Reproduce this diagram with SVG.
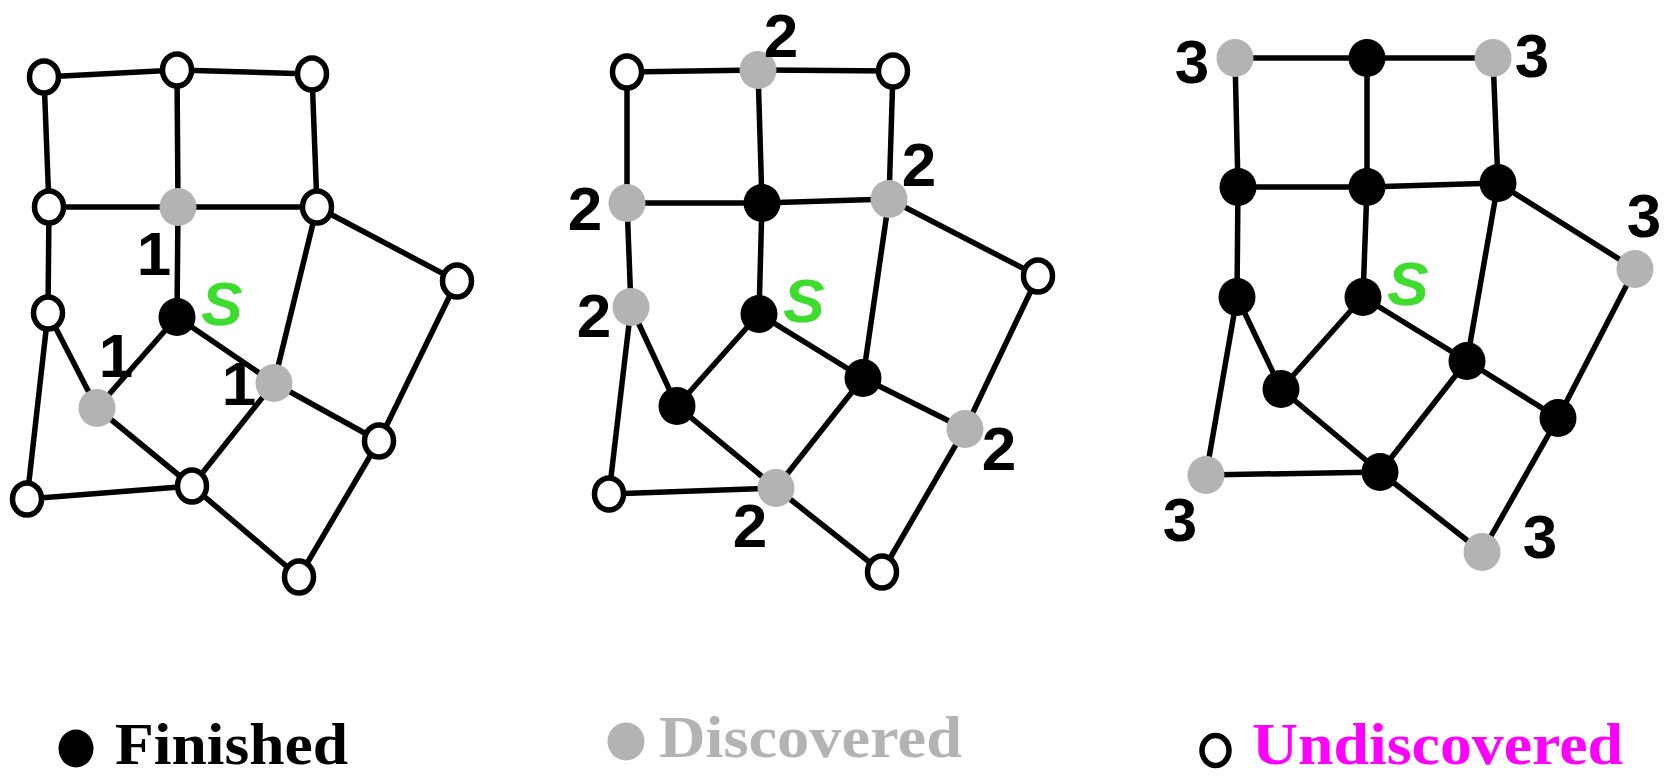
<svg xmlns="http://www.w3.org/2000/svg" width="1666" height="776" viewBox="0 0 1666 776">
<style>
.e{stroke:#000;stroke-width:5.5;fill:none}
.f{fill:#000}
.d{fill:#b3b3b3}
.u{fill:#fff;stroke:#000;stroke-width:5.5}
.n{font-family:"Liberation Sans",Arial,sans-serif;font-weight:bold;font-size:62px;fill:#000;text-anchor:middle}
.s{font-family:"Liberation Sans",Arial,sans-serif;font-weight:bold;font-style:italic;font-size:62px;fill:#3ddc2f;text-anchor:middle}
.lg{font-family:"Liberation Serif","Times New Roman",serif;font-weight:bold;font-size:60px}
</style>
<rect width="1666" height="776" fill="#fff"/>
<defs>
<ellipse id="fn" rx="18.5" ry="19"/>
<ellipse id="un" rx="14.5" ry="16"/>
</defs>

<!-- Graph 1 connectors -->
<g id="connectors1" class="e">
<line x1="44" y1="77" x2="177" y2="70"/>
<line x1="177" y1="70" x2="312" y2="74"/>
<line x1="44" y1="77" x2="49" y2="207"/>
<line x1="177" y1="70" x2="178" y2="207"/>
<line x1="312" y1="74" x2="317" y2="207"/>
<line x1="49" y1="207" x2="178" y2="207"/>
<line x1="178" y1="207" x2="317" y2="207"/>
<line x1="49" y1="207" x2="48" y2="313"/>
<line x1="178" y1="207" x2="177" y2="317"/>
<line x1="317" y1="207" x2="457" y2="281"/>
<line x1="317" y1="207" x2="274" y2="383"/>
<line x1="48" y1="313" x2="97" y2="408"/>
<line x1="48" y1="313" x2="27" y2="499"/>
<line x1="177" y1="317" x2="97" y2="408"/>
<line x1="177" y1="317" x2="274" y2="383"/>
<line x1="97" y1="408" x2="192" y2="486"/>
<line x1="274" y1="383" x2="192" y2="486"/>
<line x1="274" y1="383" x2="379" y2="441"/>
<line x1="457" y1="281" x2="379" y2="441"/>
<line x1="27" y1="499" x2="192" y2="486"/>
<line x1="192" y1="486" x2="299" y2="577"/>
<line x1="379" y1="441" x2="299" y2="577"/>
</g>
<g id="g1A"><use href="#un" class="u" x="44" y="77"/></g>
<g id="g1B"><use href="#un" class="u" x="177" y="70"/></g>
<g id="g1C"><use href="#un" class="u" x="312" y="74"/></g>
<g id="g1D"><use href="#un" class="u" x="49" y="207"/></g>
<g id="g1E"><use href="#fn" class="d" x="178" y="207"/><text class="n" x="154" y="275">1</text></g>
<g id="g1F"><use href="#un" class="u" x="317" y="207"/></g>
<g id="g1G"><use href="#un" class="u" x="48" y="313"/></g>
<g id="g1S"><use href="#fn" class="f" x="177" y="317"/><text class="s" x="222" y="325">S</text></g>
<g id="g1H"><use href="#un" class="u" x="457" y="281"/></g>
<g id="g1I"><use href="#fn" class="d" x="97" y="408"/><text class="n" x="116" y="377">1</text></g>
<g id="g1J"><use href="#fn" class="d" x="274" y="383"/><text class="n" x="239" y="405">1</text></g>
<g id="g1K"><use href="#un" class="u" x="379" y="441"/></g>
<g id="g1L"><use href="#un" class="u" x="27" y="499"/></g>
<g id="g1M"><use href="#un" class="u" x="192" y="486"/></g>
<g id="g1N"><use href="#un" class="u" x="299" y="577"/></g>

<!-- Graph 2 connectors -->
<g id="connectors2" class="e">
<line x1="627" y1="72" x2="758" y2="70"/>
<line x1="758" y1="70" x2="893" y2="71"/>
<line x1="627" y1="72" x2="627" y2="203"/>
<line x1="758" y1="70" x2="762" y2="203"/>
<line x1="893" y1="71" x2="889" y2="199"/>
<line x1="627" y1="203" x2="762" y2="203"/>
<line x1="762" y1="203" x2="889" y2="199"/>
<line x1="627" y1="203" x2="631" y2="307"/>
<line x1="762" y1="203" x2="759" y2="314"/>
<line x1="889" y1="199" x2="1038" y2="276"/>
<line x1="889" y1="199" x2="863" y2="378"/>
<line x1="631" y1="307" x2="677" y2="406"/>
<line x1="631" y1="307" x2="609" y2="494"/>
<line x1="759" y1="314" x2="677" y2="406"/>
<line x1="759" y1="314" x2="863" y2="378"/>
<line x1="677" y1="406" x2="776" y2="488"/>
<line x1="863" y1="378" x2="776" y2="488"/>
<line x1="863" y1="378" x2="965" y2="429"/>
<line x1="1038" y1="276" x2="965" y2="429"/>
<line x1="609" y1="494" x2="776" y2="488"/>
<line x1="776" y1="488" x2="882" y2="572"/>
<line x1="965" y1="429" x2="882" y2="572"/>
</g>
<g id="g2A"><use href="#un" class="u" x="627" y="72"/></g>
<g id="g2B"><use href="#fn" class="d" x="758" y="70"/><text class="n" x="781" y="57">2</text></g>
<g id="g2C"><use href="#un" class="u" x="893" y="71"/></g>
<g id="g2D"><use href="#fn" class="d" x="627" y="203"/><text class="n" x="585" y="230">2</text></g>
<g id="g2E"><use href="#fn" class="f" x="762" y="203"/></g>
<g id="g2F"><use href="#fn" class="d" x="889" y="199"/><text class="n" x="919" y="186">2</text></g>
<g id="g2G"><use href="#fn" class="d" x="631" y="307"/><text class="n" x="594" y="337">2</text></g>
<g id="g2S"><use href="#fn" class="f" x="759" y="314"/><text class="s" x="804" y="322">S</text></g>
<g id="g2H"><use href="#un" class="u" x="1038" y="276"/></g>
<g id="g2I"><use href="#fn" class="f" x="677" y="406"/></g>
<g id="g2J"><use href="#fn" class="f" x="863" y="378"/></g>
<g id="g2K"><use href="#fn" class="d" x="965" y="429"/><text class="n" x="999" y="470">2</text></g>
<g id="g2L"><use href="#un" class="u" x="609" y="494"/></g>
<g id="g2M"><use href="#fn" class="d" x="776" y="488"/><text class="n" x="750" y="547">2</text></g>
<g id="g2N"><use href="#un" class="u" x="882" y="572"/></g>

<!-- Graph 3 connectors -->
<g id="connectors3" class="e">
<line x1="1235" y1="58" x2="1367" y2="58"/>
<line x1="1367" y1="58" x2="1493" y2="58"/>
<line x1="1235" y1="58" x2="1238" y2="187"/>
<line x1="1367" y1="58" x2="1367" y2="187"/>
<line x1="1493" y1="58" x2="1498" y2="183"/>
<line x1="1238" y1="187" x2="1367" y2="187"/>
<line x1="1367" y1="187" x2="1498" y2="183"/>
<line x1="1238" y1="187" x2="1237" y2="297"/>
<line x1="1367" y1="187" x2="1363" y2="297"/>
<line x1="1498" y1="183" x2="1635" y2="269"/>
<line x1="1498" y1="183" x2="1467" y2="361"/>
<line x1="1237" y1="297" x2="1281" y2="389"/>
<line x1="1237" y1="297" x2="1206" y2="475"/>
<line x1="1363" y1="297" x2="1281" y2="389"/>
<line x1="1363" y1="297" x2="1467" y2="361"/>
<line x1="1281" y1="389" x2="1380" y2="472"/>
<line x1="1467" y1="361" x2="1380" y2="472"/>
<line x1="1467" y1="361" x2="1558" y2="418"/>
<line x1="1635" y1="269" x2="1558" y2="418"/>
<line x1="1206" y1="475" x2="1380" y2="472"/>
<line x1="1380" y1="472" x2="1482" y2="552"/>
<line x1="1558" y1="418" x2="1482" y2="552"/>
</g>
<g id="g3A"><use href="#fn" class="d" x="1235" y="58"/><text class="n" x="1192" y="83">3</text></g>
<g id="g3B"><use href="#fn" class="f" x="1367" y="58"/></g>
<g id="g3C"><use href="#fn" class="d" x="1493" y="58"/><text class="n" x="1532" y="77">3</text></g>
<g id="g3D"><use href="#fn" class="f" x="1238" y="187"/></g>
<g id="g3E"><use href="#fn" class="f" x="1367" y="187"/></g>
<g id="g3F"><use href="#fn" class="f" x="1498" y="183"/></g>
<g id="g3G"><use href="#fn" class="f" x="1237" y="297"/></g>
<g id="g3S"><use href="#fn" class="f" x="1363" y="297"/><text class="s" x="1408" y="305">S</text></g>
<g id="g3H"><use href="#fn" class="d" x="1635" y="269"/><text class="n" x="1644" y="237">3</text></g>
<g id="g3I"><use href="#fn" class="f" x="1281" y="389"/></g>
<g id="g3J"><use href="#fn" class="f" x="1467" y="361"/></g>
<g id="g3K"><use href="#fn" class="f" x="1558" y="418"/></g>
<g id="g3L"><use href="#fn" class="d" x="1206" y="475"/><text class="n" x="1180" y="541">3</text></g>
<g id="g3M"><use href="#fn" class="f" x="1380" y="472"/></g>
<g id="g3N"><use href="#fn" class="d" x="1482" y="552"/><text class="n" x="1540" y="558">3</text></g>

<!-- Legend -->
<g id="legend-finished">
<ellipse class="f" cx="76" cy="748.5" rx="17.5" ry="19"/>
<text class="lg" x="115" y="764" fill="#000" textLength="233" lengthAdjust="spacingAndGlyphs">Finished</text>
</g>
<g id="legend-discovered">
<ellipse class="d" cx="626" cy="741.5" rx="18.5" ry="19"/>
<text class="lg" x="659" y="757" fill="#b3b3b3" textLength="303" lengthAdjust="spacingAndGlyphs">Discovered</text>
</g>
<g id="legend-undiscovered">
<ellipse class="u" cx="1215.5" cy="750.5" rx="13.5" ry="15"/>
<text class="lg" x="1252" y="764" fill="#ff00ff" textLength="371" lengthAdjust="spacingAndGlyphs">Undiscovered</text>
</g>
</svg>
